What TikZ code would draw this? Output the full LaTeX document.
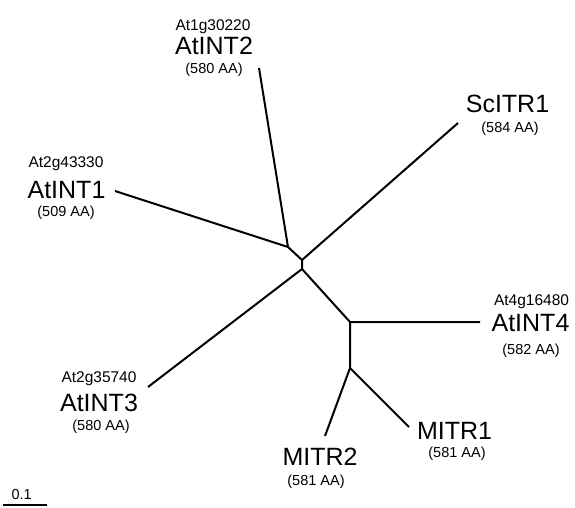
\documentclass[tikz,border=0pt]{standalone}
\usepackage{fontspec}
\setmainfont{Liberation Sans}
\begin{document}
\begin{tikzpicture}[x=1pt,y=-1pt,
  br/.style={line width=2pt, line join=miter},
  idlab/.style={inner sep=0pt, font=\fontsize{15.5}{16}\selectfont, text height=11.1pt, text depth=0pt},
  namelab/.style={inner sep=0pt, font=\fontsize{25}{26}\selectfont, text height=17.9pt, text depth=0pt},
  aalab/.style={inner sep=0pt, font=\fontsize{14.5}{15}\selectfont, text height=10.4pt, text depth=0pt}]
\useasboundingbox (0,0) rectangle (575,507);
% tree coordinates
\coordinate (n1) at (288,247);
\coordinate (n2) at (302,260);
\coordinate (n3) at (302,269);
\coordinate (n4) at (350,322);
\coordinate (n5) at (350,368);
\coordinate (at2) at (259,68);
\coordinate (at1) at (115,191);
\coordinate (sc) at (458,123);
\coordinate (at3) at (148,387);
\coordinate (at4) at (480,322);
\coordinate (m2) at (325,436);
\coordinate (m1) at (409,427);
% branches
\draw[br] (at2) -- (n1) -- (at1);
\draw[br] (n1) -- (n2) -- (sc);
\draw[br] (n2) -- (n3) -- (at3);
\draw[br] (n3) -- (n4) -- (at4);
\draw[br] (n4) -- (n5) -- (m2);
\draw[br] (n5) -- (m1);
% labels
\node[idlab] (id2) at (213,24.5) {At1g30220};
\node[namelab] (nm2) at (214,46) {AtINT2};
\node[aalab] (aa2) at (214,68) {(580 AA)};
\node[idlab] (id1) at (66,162) {At2g43330};
\node[namelab] (nm1) at (66.5,190) {AtINT1};
\node[aalab] (aa1) at (66,211) {(509 AA)};
\node[namelab] (nmsc) at (507.5,103.5) {ScITR1};
\node[aalab] (aasc) at (510,127) {(584 AA)};
\node[idlab] (id4) at (531.5,300) {At4g16480};
\node[namelab] (nm4) at (530.5,323) {AtINT4};
\node[aalab] (aa4) at (531,349) {(582 AA)};
\node[idlab] (id3) at (99,377) {At2g35740};
\node[namelab] (nm3) at (99,403) {AtINT3};
\node[aalab] (aa3) at (101,425) {(580 AA)};
\node[namelab] (nmm2) at (320,457) {MITR2};
\node[aalab] (aam2) at (316,480) {(581 AA)};
\node[namelab] (nmm1) at (454.5,430.5) {MITR1};
\node[aalab] (aam1) at (457,452) {(581 AA)};
% scale bar
\coordinate (s1) at (3,505);
\coordinate (s2) at (47,505);
\draw[line width=1.2pt] (s1) -- (s2);
\node[aalab] (sbl) at (21.7,494.5) {0.1};
\end{tikzpicture}
\end{document}
